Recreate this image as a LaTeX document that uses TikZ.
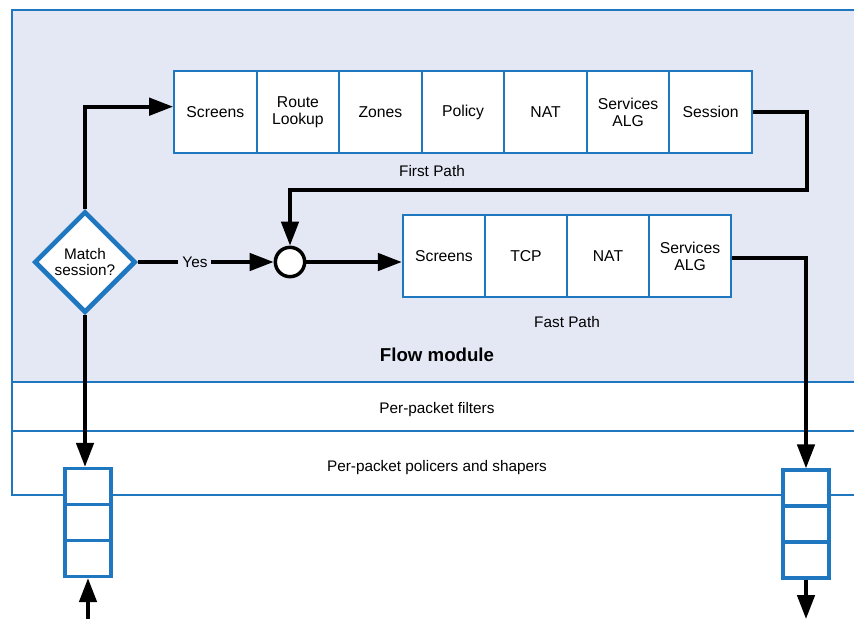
\documentclass[tikz,border=0pt]{standalone}
\usepackage{fontspec}
\setmainfont{Liberation Sans}
\usetikzlibrary{arrows.meta,shapes.geometric}
\definecolor{frameblue}{HTML}{1F77C0}
\definecolor{modfill}{HTML}{E4E8F5}
\begin{document}
\begin{tikzpicture}[x=0.75pt,y=-0.75pt,
  cell/.style={draw=frameblue, line width=1.4pt, fill=white, minimum width=61.9pt,
    minimum height=61.5pt, inner sep=0pt, align=center,
    font=\fontsize{11.8}{12.8}\selectfont},
  qcell/.style={draw=frameblue, line width=2.5pt, fill=white, minimum width=34.5pt,
    minimum height=27pt, inner sep=0pt},
  flow/.style={draw=black, line width=2.8pt, -{Triangle[length=18pt,width=13pt]}},
  lbl/.style={font=\fontsize{11.5}{12.5}\selectfont, inner sep=1pt},
  frame/.style={draw=frameblue, line width=1.1pt}]
\useasboundingbox (0,0) rectangle (854,619);

% flow module background and layer bands
\fill[modfill] (12,10) rectangle (860,382);
\draw[frame] (860,10) -- (12,10) -- (12,495) -- (860,495);
\draw[frame] (12,382) -- (860,382);
\draw[frame] (12,431) -- (860,431);

% first path stages
\node[cell] (fp1) at (215.3,112) {Screens};
\node[cell] (fp2) at (297.9,112) {Route\\Lookup};
\node[cell] (fp3) at (380.4,112) {Zones};
\node[cell] (fp4) at (463.0,112) {Policy};
\node[cell] (fp5) at (545.6,112) {NAT};
\node[cell] (fp6) at (628.1,112) {Services\\ALG};
\node[cell] (fp7) at (710.7,112) {Session};
\node[lbl] (lfirst) at (432,171) {First Path};

% fast path stages
\node[cell] (ff1) at (444,256) {Screens};
\node[cell] (ff2) at (526,256) {TCP};
\node[cell] (ff3) at (608,256) {NAT};
\node[cell] (ff4) at (690,256) {Services\\ALG};
\node[lbl] (lfast) at (567,322) {Fast Path};

\node[font=\bfseries\fontsize{14}{16}\selectfont] (lflow) at (437,355) {Flow module};
\node[lbl] (lfilt) at (437,410) {Per-packet filters};
\node[lbl] (lpol) at (437,468) {Per-packet policers and shapers};

% decision and junction
\node[diamond, aspect=1, draw=frameblue, line width=3.5pt, fill=white, minimum width=76pt,
  minimum height=76pt, inner sep=0pt, align=center,
  font=\fontsize{11.5}{12.5}\selectfont] (dia) at (85,262) {Match\\session?};
\node[circle, draw=black, line width=2.6pt, fill=white, minimum size=22pt, inner sep=0pt] (cj) at (290,262) {};

% queues
\node[qcell] (lq1) at (88,486.5) {};
\node[qcell] (lq2) at (88,522.5) {};
\node[qcell] (lq3) at (88,558.5) {};
\node[qcell] (rq1) at (806,488) {};
\node[qcell] (rq2) at (806,524) {};
\node[qcell] (rq3) at (806,560) {};

\coordinate (ret) at (807,190);
\coordinate (qin) at (88,619);
\coordinate (qout) at (806,619);

% connectors
\draw[flow] (dia.north) |- ([yshift=4pt]fp1.west);
\draw[flow] (fp7.east) -| (ret) -| (cj.north);
\draw[flow] (dia.east) -- node[lbl, fill=modfill, pos=0.42, inner sep=3pt] {Yes} (cj.west);
\draw[flow] (cj.east) -- (cj.east -| ff1.west);
\draw[flow] ([yshift=-1.5pt]ff4.east) -| (rq1.north);
\draw[flow] (dia.south) -- (dia.south |- lq1.north);
\draw[flow] (qin) -- (lq3.south);
\draw[flow] (rq3.south) -- (qout);
\end{tikzpicture}
\end{document}
